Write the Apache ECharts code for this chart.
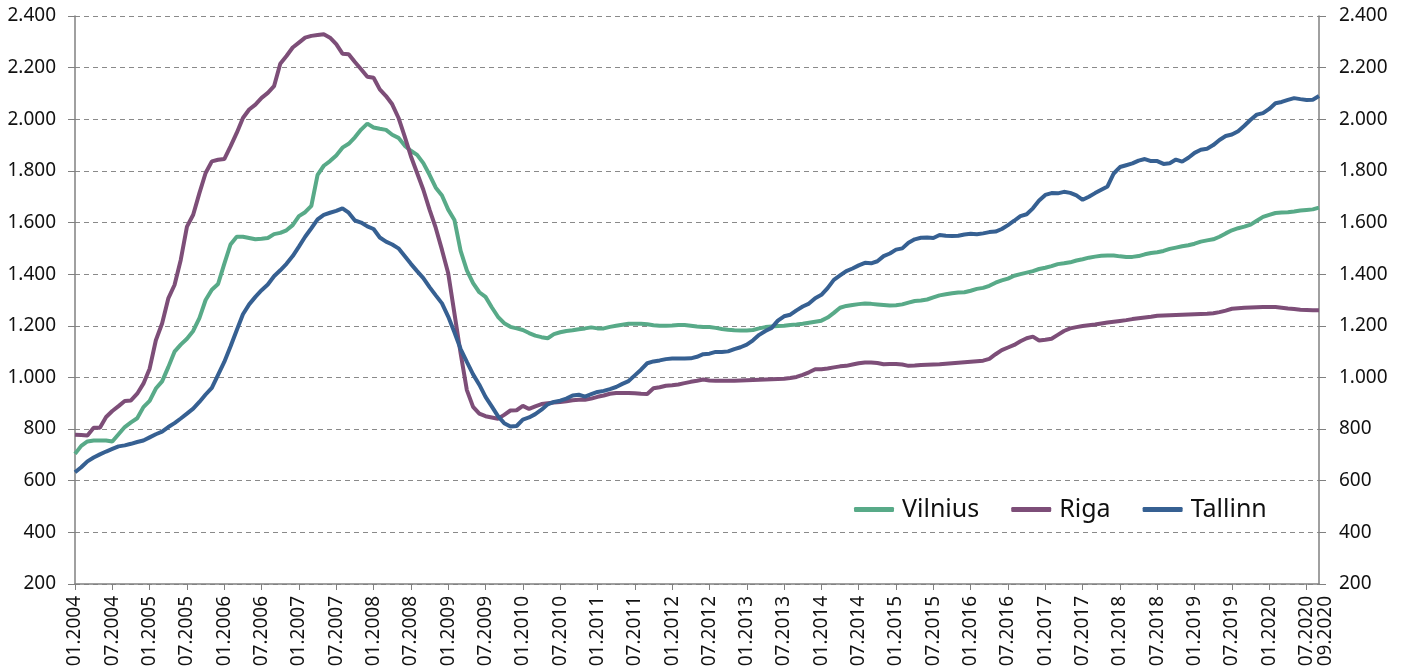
<!DOCTYPE html>
<html>
<head>
<meta charset="utf-8">
<script src="https://cdn.jsdelivr.net/npm/echarts@6/dist/echarts.min.js"></script>
<style>
html,body{margin:0;padding:0;background:#fff;}
#chart{width:1403px;height:672px;}
</style>
</head>
<body>
<div id="chart"></div>
<script>
// Monthly categories 01.2004 .. 09.2020
const months = [];
for (let y = 2004; y <= 2020; y++) {
  for (let m = 1; m <= 12; m++) {
    if (y === 2020 && m > 9) break;
    months.push((m < 10 ? '0' + m : '' + m) + '.' + y);
  }
}

const vilnius = [
  704,735,752,756,756,756,752,780,808,826,
  842,885,909,957,985,1040,1100,1127,1150,1180,
  1230,1300,1340,1362,1440,1515,1545,1545,1540,1535,
  1537,1540,1555,1560,1570,1590,1625,1640,1665,1785,
  1820,1838,1860,1890,1905,1930,1960,1983,1968,1963,
  1959,1940,1928,1898,1878,1862,1830,1785,1735,1705,
  1650,1610,1490,1415,1365,1330,1312,1272,1235,1210,
  1196,1190,1184,1172,1162,1156,1152,1168,1175,1180,
  1183,1187,1190,1194,1190,1190,1196,1200,1204,1208,
  1208,1208,1206,1202,1200,1200,1201,1203,1203,1200,
  1197,1195,1195,1192,1188,1185,1183,1182,1182,1184,
  1190,1195,1197,1199,1200,1203,1205,1208,1212,1216,
  1220,1232,1250,1270,1277,1281,1284,1286,1285,1283,
  1281,1279,1280,1283,1290,1296,1298,1302,1310,1318,
  1322,1326,1329,1330,1336,1343,1347,1355,1367,1376,
  1383,1394,1400,1406,1412,1420,1425,1431,1439,1442,
  1446,1453,1458,1464,1468,1471,1472,1472,1469,1467,
  1467,1470,1477,1482,1485,1490,1498,1503,1508,1512,
  1518,1526,1531,1535,1545,1558,1570,1578,1584,1592,
  1607,1622,1630,1637,1639,1640,1643,1647,1649,1651,
  1658
];

const riga = [
  778,777,775,805,805,847,870,889,909,911,
  937,976,1034,1144,1209,1306,1358,1455,1584,1630,
  1714,1792,1837,1843,1846,1895,1947,2005,2038,2057,
  2083,2102,2128,2215,2245,2278,2297,2316,2323,2326,
  2329,2316,2291,2254,2252,2222,2194,2165,2161,2116,
  2090,2058,2006,1934,1857,1792,1727,1650,1579,1494,
  1404,1248,1093,951,886,860,850,845,840,855,
  872,873,890,878,888,897,900,903,905,908,
  912,914,914,918,925,930,937,940,940,940,
  939,937,936,958,962,968,970,973,978,983,
  987,992,988,987,987,987,987,988,989,990,
  991,992,993,994,995,998,1002,1010,1020,1032,
  1032,1035,1039,1043,1045,1050,1055,1058,1058,1056,
  1051,1052,1052,1050,1045,1046,1048,1049,1050,1051,
  1053,1055,1057,1059,1061,1063,1065,1072,1090,1106,
  1116,1126,1140,1152,1158,1143,1146,1150,1165,1180,
  1190,1195,1199,1202,1205,1209,1213,1216,1219,1222,
  1226,1229,1232,1235,1239,1240,1241,1242,1243,1244,
  1245,1246,1247,1249,1253,1259,1266,1268,1270,1271,
  1272,1273,1273,1273,1270,1267,1265,1262,1261,1260,
  1260
];

const tallinn = [
  633,652,675,690,702,713,723,733,737,743,
  750,756,768,780,790,808,823,841,860,879,
  905,934,960,1010,1060,1120,1183,1245,1283,1312,
  1338,1360,1392,1415,1440,1470,1507,1545,1578,1612,
  1630,1638,1645,1655,1638,1608,1600,1585,1575,1542,
  1526,1515,1500,1470,1440,1412,1385,1350,1318,1287,
  1236,1175,1110,1060,1012,972,925,888,850,823,
  810,812,837,845,858,875,896,905,910,918,
  930,933,926,935,944,948,955,963,975,986,
  1008,1030,1055,1062,1066,1071,1073,1073,1073,1074,
  1080,1090,1092,1099,1099,1101,1110,1117,1127,1144,
  1165,1180,1192,1220,1237,1243,1260,1275,1286,1307,
  1320,1346,1378,1395,1412,1422,1434,1444,1442,1450,
  1470,1480,1495,1500,1522,1535,1541,1542,1540,1552,
  1549,1548,1549,1554,1557,1555,1558,1563,1565,1575,
  1590,1607,1625,1632,1655,1685,1707,1714,1713,1719,
  1715,1705,1688,1700,1714,1727,1740,1790,1815,1822,
  1829,1840,1846,1838,1838,1827,1830,1844,1836,1851,
  1870,1882,1886,1900,1920,1935,1941,1954,1975,1998,
  2018,2024,2040,2062,2067,2075,2082,2078,2075,2076,
  2090
];

const seriesNames = ['Vilnius', 'Riga', 'Tallinn'];
const colors = ['#58aa88', '#7d4e78', '#366092'];

const FONT = "'Noto Sans', 'Open Sans', sans-serif";
const lastIdx = months.length - 1;

function fmt(v) {
  if (v >= 1000) {
    const t = Math.floor(v / 1000);
    const r = v % 1000;
    return t + '.' + String(r).padStart(3, '0');
  }
  return String(v);
}

const chart = echarts.init(document.getElementById('chart'), null, {renderer: 'canvas'});

const yAxisCommon = {
  type: 'value',
  min: 200,
  max: 2400,
  interval: 200,
  axisLine: {show: true, lineStyle: {color: '#808080', width: 1.5}},
  axisTick: {show: true, length: 7, lineStyle: {color: '#808080', width: 1}},
  axisLabel: {color: '#111', fontSize: 19, fontFamily: FONT, formatter: fmt}
};

const xLabelStyle = {
  rotate: 90,
  margin: 12,
  color: '#111',
  fontSize: 19,
  fontFamily: FONT,
  hideOverlap: false
};

chart.setOption({
  animation: false,
  backgroundColor: '#ffffff',
  color: colors,
  grid: {left: 75, right: 84, top: 16, bottom: 88, containLabel: false},
  legend: {
    data: seriesNames,
    left: 849,
    top: 492,
    icon: 'roundRect',
    itemWidth: 40,
    itemHeight: 5,
    itemGap: 32,
    textStyle: {fontSize: 25, fontFamily: FONT, color: '#111', padding: [0, 0, 0, 3]}
  },
  xAxis: [
    {
      type: 'category',
      data: months,
      boundaryGap: false,
      position: 'bottom',
      axisLine: {show: true, lineStyle: {color: '#808080', width: 1.5}},
      axisTick: {show: true, length: 6, interval: (i) => i % 6 === 0, lineStyle: {color: '#808080'}},
      axisLabel: Object.assign({}, xLabelStyle, {
        interval: (i) => i % 6 === 0,
        showMaxLabel: true,
        showMinLabel: true
      }),
      splitLine: {show: false}
    },
    {
      type: 'category',
      data: months,
      boundaryGap: false,
      position: 'bottom',
      offset: 0,
      axisLine: {show: false},
      axisTick: {show: false},
      axisLabel: Object.assign({}, xLabelStyle, {
        interval: (i) => i === lastIdx,
        showMaxLabel: true,
        showMinLabel: false,
        verticalAlign: 'top',
        lineHeight: 14
      }),
      splitLine: {show: false}
    }
  ],
  yAxis: [
    Object.assign({}, yAxisCommon, {
      position: 'left',
      axisLabel: Object.assign({}, yAxisCommon.axisLabel, {margin: 19}),
      splitLine: {show: true, lineStyle: {color: '#8a8a8a', type: [5, 4], width: 1}}
    }),
    Object.assign({}, yAxisCommon, {
      position: 'right',
      axisLabel: Object.assign({}, yAxisCommon.axisLabel, {margin: 20}),
      splitLine: {show: false}
    })
  ],
  series: [
    {name: 'Vilnius', type: 'line', data: vilnius, showSymbol: false, symbol: 'none', lineStyle: {width: 4, color: colors[0]}, itemStyle: {color: colors[0]}},
    {name: 'Riga', type: 'line', data: riga, showSymbol: false, symbol: 'none', lineStyle: {width: 4, color: colors[1]}, itemStyle: {color: colors[1]}},
    {name: 'Tallinn', type: 'line', data: tallinn, showSymbol: false, symbol: 'none', lineStyle: {width: 4, color: colors[2]}, itemStyle: {color: colors[2]}}
  ]
});
</script>
</body>
</html>
